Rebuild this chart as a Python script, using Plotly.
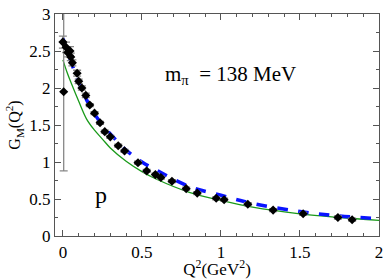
import plotly.graph_objects as go

# experimental data
data_q2 = [0.005, 0.0, 0.02, 0.03, 0.045, 0.05, 0.06, 0.09, 0.10, 0.12, 0.145, 0.17, 0.20,
           0.235, 0.265, 0.30, 0.35, 0.39, 0.475, 0.53, 0.585, 0.62, 0.69, 0.78, 0.85,
           0.97, 1.02, 1.17, 1.33, 1.52, 1.74, 1.83]
data_gm = [1.95, 2.62, 2.55, 2.48, 2.50, 2.42, 2.34, 2.20, 2.09, 2.00, 1.90, 1.77, 1.66,
           1.53, 1.41, 1.34, 1.22, 1.15, 0.99, 0.88, 0.83, 0.79, 0.74, 0.64, 0.58,
           0.51, 0.49, 0.43, 0.35, 0.30, 0.25, 0.22]
data_err = [1.07, 0.08, 0.07, 0.06, 0.06, 0.05, 0.04, 0.04, 0.03, 0.03, 0.03, 0.02, 0.02,
            0.02, 0.02, 0.02, 0.02, 0.02, 0.02, 0.02, 0.02, 0.02, 0.02, 0.02, 0.02,
            0.02, 0.02, 0.02, 0.02, 0.02, 0.02, 0.02]

# blue dashed curve
blue_q2 = [0, 0.05, 0.1, 0.15, 0.2, 0.25, 0.3, 0.4, 0.5, 0.6, 0.8, 1.0, 1.2, 1.5, 1.75, 2.0]
blue_gm = [2.67, 2.36, 2.08, 1.84, 1.65, 1.50, 1.38, 1.16, 1.00, 0.88, 0.67, 0.55, 0.44, 0.33, 0.27, 0.235]

# green solid curve
green_q2 = [0, 0.025, 0.05, 0.1, 0.15, 0.2, 0.25, 0.3, 0.4, 0.5, 0.6, 0.8, 1.0, 1.2, 1.5, 1.75, 2.0]
green_gm = [2.38, 2.22, 2.08, 1.82, 1.58, 1.43, 1.31, 1.19, 1.01, 0.87, 0.76, 0.59, 0.48, 0.39, 0.30, 0.25, 0.21]

serif = "Liberation Serif, Times New Roman, serif"

fig = go.Figure()
fig.add_trace(go.Scatter(x=green_q2, y=green_gm, mode="lines", line_shape="spline",
                         line=dict(color="#1a9a1a", width=1.3), showlegend=False))
fig.add_trace(go.Scatter(x=blue_q2, y=blue_gm, mode="lines", line_shape="spline",
                         line=dict(color="#0a14ff", width=3.5, dash="dash"), showlegend=False))
fig.add_trace(go.Scatter(x=data_q2, y=data_gm, mode="markers",
                         marker=dict(symbol="diamond", size=7, color="black"),
                         error_y=dict(type="data", array=data_err, color="#888888",
                                      thickness=1.3, width=4),
                         showlegend=False))

fig.add_annotation(x=1.06, y=2.18, text="m<sub>π</sub>  = 138 MeV", showarrow=False,
                   font=dict(family=serif, size=21, color="black"))
fig.add_annotation(x=0.24, y=0.55, text="p", showarrow=False,
                   font=dict(family=serif, size=24, color="black"))

axis_common = dict(showline=True, linecolor="#555555", linewidth=1.2, mirror="allticks",
                   ticks="inside", ticklen=6, tickcolor="#555555", showgrid=False,
                   zeroline=False, ticklabeloverflow="allow",
                   tickfont=dict(family=serif, size=17, color="black"))

fig.update_xaxes(range=[-0.05, 2.0], tickvals=[0, 0.5, 1, 1.5, 2],
                 ticktext=["0", "0.5", "1", "1.5", "2"],
                 minor=dict(dtick=0.1, ticks="inside", ticklen=3, tickcolor="#555555"),
                 title=dict(text="Q<sup>2</sup>(GeV<sup>2</sup>)", standoff=1,
                            font=dict(family=serif, size=17, color="black")),
                 **axis_common)
fig.update_yaxes(range=[0, 3], tickvals=[0, 0.5, 1, 1.5, 2, 2.5, 3],
                 ticktext=["0", "0.5", "1", "1.5", "2", "2.5", "3"],
                 minor=dict(dtick=0.25, ticks="inside", ticklen=3, tickcolor="#555555"),
                 title=dict(text="G<sub>M</sub>(Q<sup>2</sup>)", standoff=4,
                            font=dict(family=serif, size=16, color="black")),
                 **axis_common)

fig.update_layout(width=388, height=279, margin=dict(l=55, r=5, t=5, b=43),
                  plot_bgcolor="white", paper_bgcolor="white")

fig.write_html("out.html", config={"displayModeBar": False},
               post_script="document.body.style.margin='0';")
